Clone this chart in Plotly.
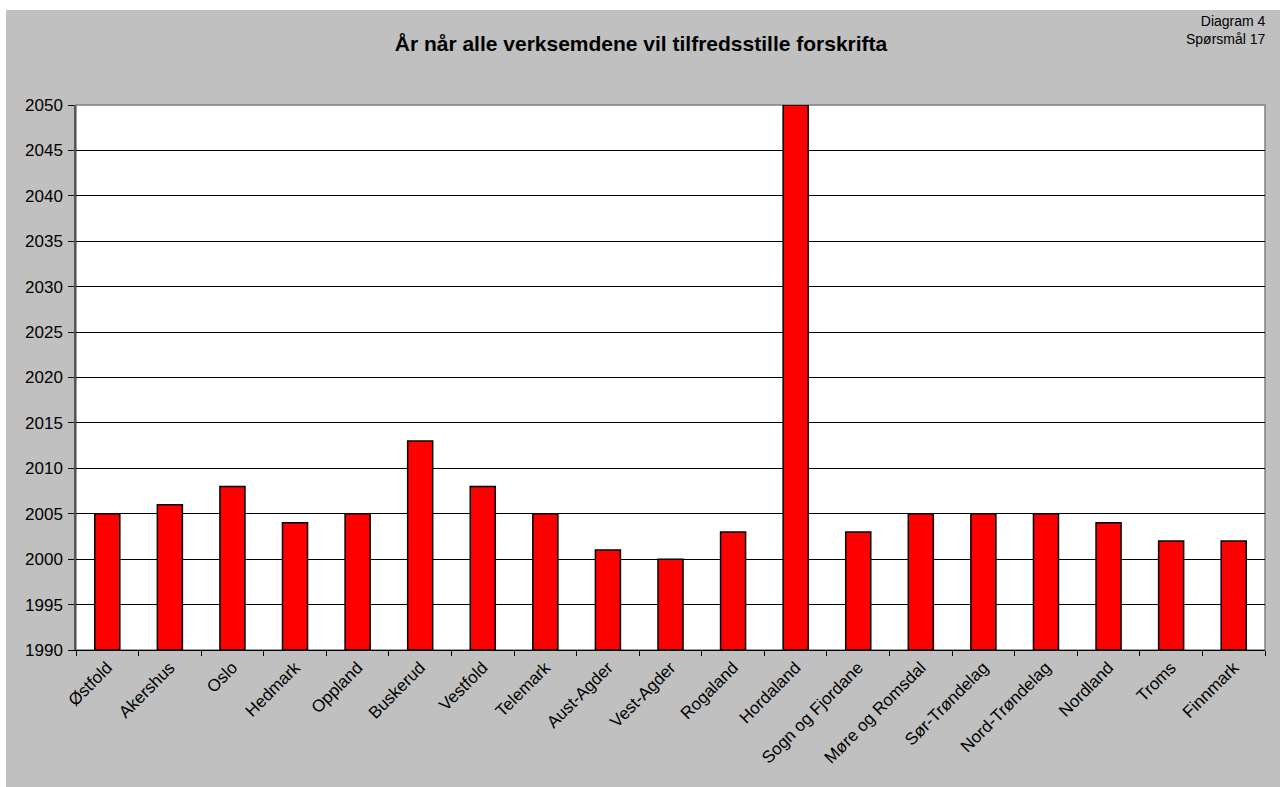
import plotly.graph_objects as go

categories = ["Østfold", "Akershus", "Oslo", "Hedmark", "Oppland", "Buskerud", "Vestfold",
              "Telemark", "Aust-Agder", "Vest-Agder", "Rogaland", "Hordaland", "Sogn og Fjordane",
              "Møre og Romsdal", "Sør-Trøndelag", "Nord-Trøndelag", "Nordland", "Troms", "Finnmark"]
years = [2005, 2006, 2008, 2004, 2005, 2013, 2008, 2005, 2001, 2000, 2003, 2050, 2003,
         2005, 2005, 2005, 2004, 2002, 2002]
y_ticks = list(range(1990, 2051, 5))

W, H = 1280, 787
ml, mr, mt, mb = 76, 15, 105, 137

fig = go.Figure(go.Bar(
    x=categories, y=[v - 1990 for v in years], base=1990,
    marker=dict(color="#FF0000", line=dict(color="#000000", width=1.5)),
))

pw = W - ml - mr
ph = H - mt - mb
def px_x(p):
    return (p - ml) / pw
def px_y(p):
    return 1 - (p - mt) / ph

fig.update_layout(
    width=W, height=H,
    margin=dict(l=ml, r=mr, t=mt, b=mb),
    paper_bgcolor="#FFFFFF",
    plot_bgcolor="#FFFFFF",
    bargap=0.6,
    showlegend=False,
    font=dict(family="Liberation Sans, Arial, sans-serif", color="#000000", size=17),
    title=dict(text="<b>År når alle verksemdene vil tilfredsstille forskrifta</b>",
               x=641 / W, xref="container", xanchor="center",
               y=1 - 44 / H, yanchor="middle",
               font=dict(size=21)),
    shapes=[
        dict(type="rect", xref="paper", yref="paper", layer="below",
             x0=px_x(6), x1=px_x(1282), y0=px_y(10), y1=px_y(790),
             fillcolor="#C0C0C0", line=dict(width=0)),
        dict(type="rect", xref="paper", yref="paper", layer="below",
             x0=0, x1=1, y0=0, y1=1,
             fillcolor="#FFFFFF", line=dict(color="#808080", width=1.5)),
    ],
    annotations=[
        dict(text="Diagram 4<br>Spørsmål 17", xref="paper", yref="paper",
             x=px_x(1268), y=px_y(11), xanchor="right", yanchor="top",
             align="right", showarrow=False, font=dict(size=14)),
    ],
    xaxis=dict(
        tickangle=-45, ticks="outside", tickson="boundaries", ticklen=5,
        tickcolor="#000000", showline=True, linecolor="#000000", linewidth=1,
        showgrid=False, tickfont=dict(size=17),
    ),
    yaxis=dict(
        range=[1990, 2050], tickvals=y_ticks, ticks="outside", ticklen=6,
        tickcolor="#000000", showline=True, linecolor="#555555", linewidth=1.5,
        showgrid=True, gridcolor="#000000", gridwidth=1, zeroline=False,
        tickfont=dict(size=17), ticklabelstandoff=2,
    ),
)

fig.write_html("out.html", config={"displayModeBar": False},
               post_script="document.body.style.margin='0';")
